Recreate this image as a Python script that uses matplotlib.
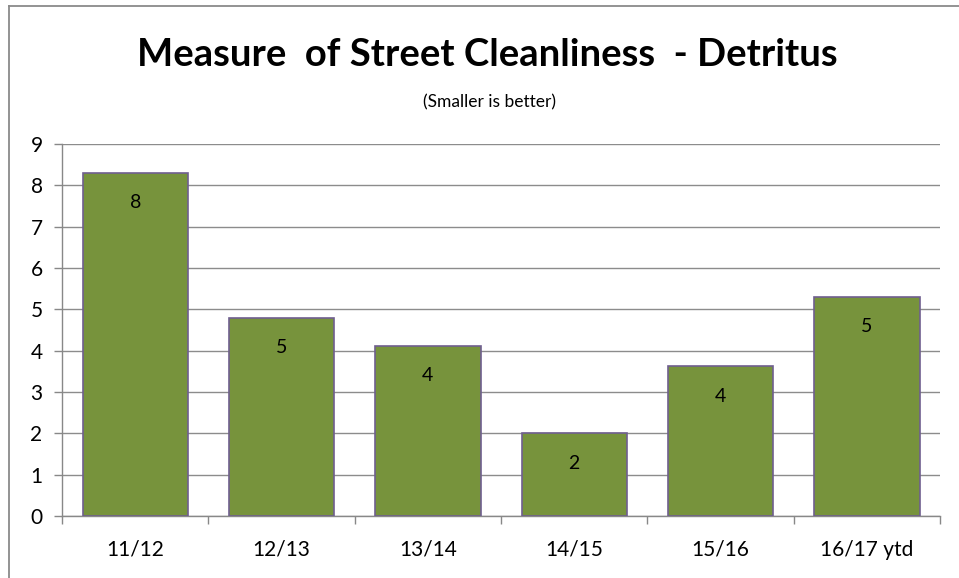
import numpy as np
import matplotlib.pyplot as plt
from matplotlib.lines import Line2D

# values
seasons = ['11/12', '12/13', '13/14', '14/15', '15/16', '16/17 ytd']
detritus = [8.3, 4.8, 4.12, 2.0, 3.63, 5.3]
shown_labels = ['8', '5', '4', '2', '4', '5']
y_ticks = list(range(0, 10))

plt.rcParams['font.family'] = ['Lato', 'DejaVu Sans']

fig = plt.figure(figsize=(9.59, 5.78), dpi=100)
ax = fig.add_axes([0.0647, 0.107, 0.9155, 0.644])

x = np.arange(len(seasons))
bars = ax.bar(x, detritus, width=0.72, color='#77933C', edgecolor='#6f5f8f',
              linewidth=1.2, zorder=3)

for b, lab in zip(bars, shown_labels):
    ax.annotate(lab, (b.get_x() + b.get_width() / 2, b.get_height()),
                xytext=(0, -30), textcoords='offset pixels',
                ha='center', va='center', fontsize=14, color='black', zorder=4)

ax.set_xlim(-0.5, len(seasons) - 0.5)
ax.set_ylim(0, 9)
ax.set_yticks(y_ticks)
ax.set_xticks(x)
ax.set_xticklabels(seasons)
ax.set_xticks(np.arange(-0.5, len(seasons)), minor=True)
ax.tick_params(axis='x', which='major', length=0, pad=17, labelsize=15)
ax.tick_params(axis='x', which='minor', length=6, color='#888888', width=1)
ax.tick_params(axis='y', length=6, color='#888888', width=1, pad=8, labelsize=15)
ax.grid(axis='y', color='#8c8c8c', linewidth=1, zorder=0)

for side in ['top', 'right']:
    ax.spines[side].set_visible(False)
for side in ['left', 'bottom']:
    ax.spines[side].set_color('#888888')
    ax.spines[side].set_linewidth(1)

fig.text(0.508, 0.905, 'Measure  of Street Cleanliness  - Detritus', ha='center',
         va='center', fontsize=27.5, fontweight='bold')
fig.text(0.510, 0.823, '(Smaller is better)', ha='center', va='center', fontsize=12.5)

# chart area border (left and top edges visible)
fig.add_artist(Line2D([0.0089, 0.0089], [0, 0.989], color='#8a8a8a', linewidth=1.3))
fig.add_artist(Line2D([0.0089, 1], [0.989, 0.989], color='#8a8a8a', linewidth=1.3))

fig.savefig('out.png', dpi=100)
